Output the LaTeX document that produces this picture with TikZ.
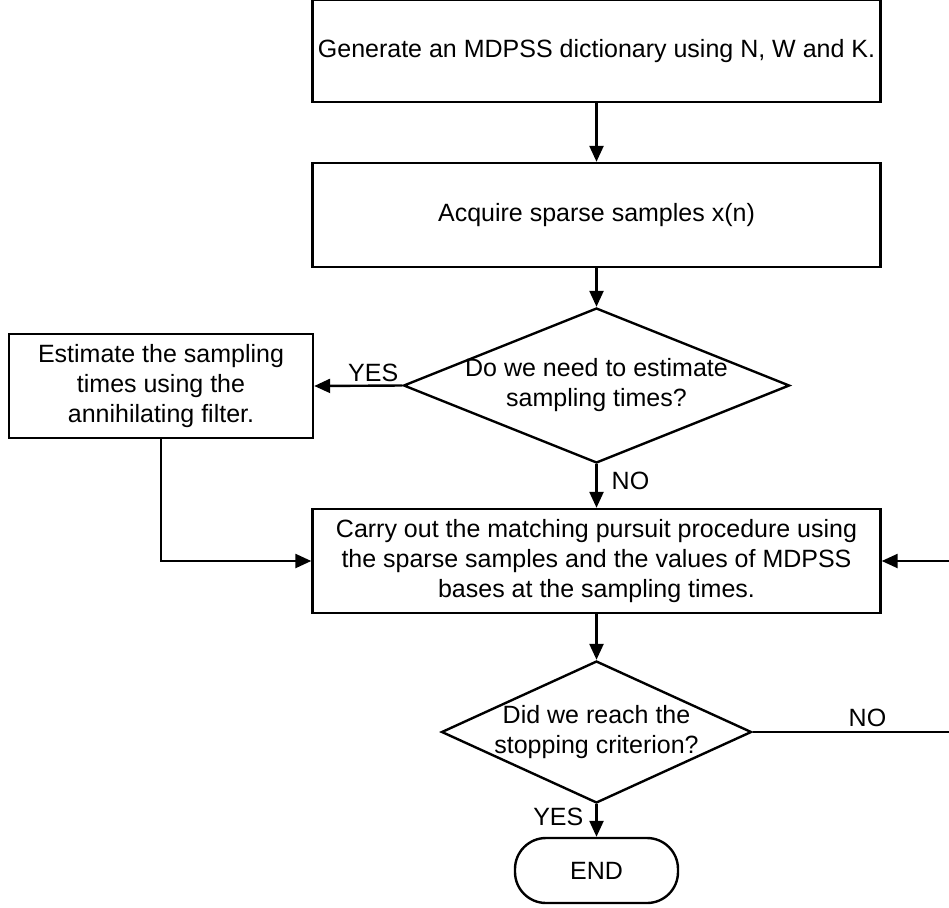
\documentclass[tikz,border=0pt]{standalone}
\usepackage{fontspec}
\setmainfont{Liberation Sans}
\usetikzlibrary{shapes.geometric,arrows.meta}
\begin{document}
\begin{tikzpicture}[x=1pt,y=-1pt] % MP flowchart
\tikzstyle{mytext} = [font=\fontsize{25}{30}\selectfont] % text size
\tikzstyle{mybox} = [draw, rectangle, line width=2.4pt, minimum width=568pt, minimum height=104pt, inner sep=0pt, align=center, mytext] % process box
\tikzstyle{mydec} = [draw, diamond, line width=2.4pt, inner sep=0pt] % decision node style
\tikzstyle{myend} = [draw, rectangle, rounded corners=31pt, line width=2.4pt, minimum width=163pt, minimum height=65pt, mytext] % end node style
\tikzstyle{myarrow} = [line width=2.4pt, -{Triangle[length=16pt,width=14pt]}]
\useasboundingbox (0,0) rectangle (949,907);

%
\node[mybox, minimum height=102pt] (gen) at (596.5,51) {Generate an MDPSS dictionary using N, W and K.};
\node[mybox] (acq) at (596.5,215) {Acquire sparse samples x(n)};
\node[mydec, minimum width=386pt, minimum height=155pt,
	label={[mytext, align=center]center:Do we need to estimate\\sampling times?}] (ask) at (596.5,385.5) {};
\node[mybox, minimum width=304pt] (est) at (161,386) {Estimate the sampling\\times using the\\annihilating filter.};
\node[mybox] (mp) at (596.5,561) {Carry out the matching pursuit procedure using\\the sparse samples and the values of MDPSS\\bases at the sampling times.};
\node[mydec, minimum width=310pt, minimum height=142pt,
	label={[mytext, align=center]center:Did we reach the\\stopping criterion?}] (stop) at (596.5,732) {};
\node[myend] (end) at (596.5,870.5) {END};
\coordinate (back) at (954,732); % loop goes off the right edge
%
\draw[myarrow] (gen) -- (acq);
\draw[myarrow] (acq) -- (ask);
\draw[myarrow] (ask.west) -- node[mytext, above, pos=0.33, inner sep=3pt] {YES} (est.east);
\draw[myarrow] (ask) -- node[mytext, right, pos=0.38, inner sep=14pt] {NO} (mp);
\draw[myarrow] (est.south) |- (mp.west);
\draw[myarrow] (mp) -- (stop);
\draw[myarrow] (stop) -- node[mytext, left, pos=0.4, inner sep=12pt] {YES} (end);
\draw[myarrow] (stop.east) -- node[mytext, above, pos=0.57, inner sep=4pt] {NO} (back) |- (mp.east);
\end{tikzpicture}
\end{document}
